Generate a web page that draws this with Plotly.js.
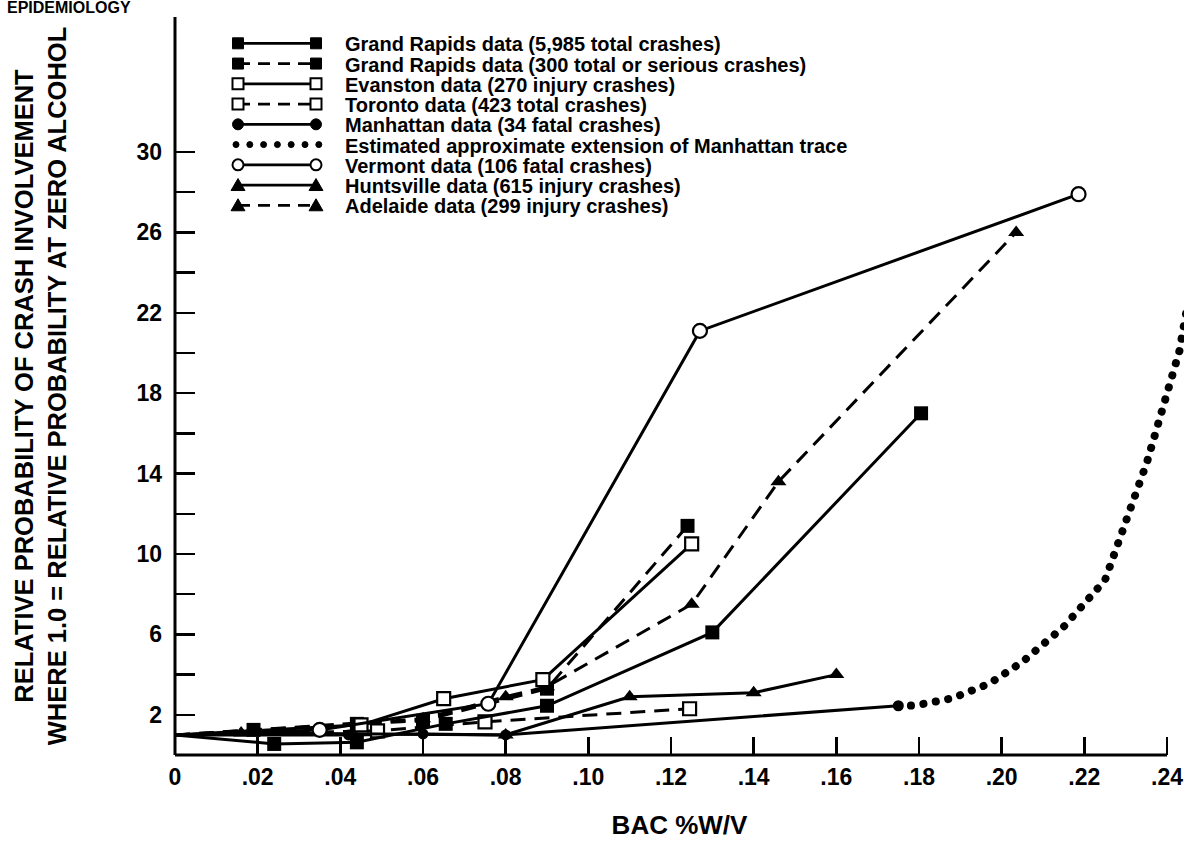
<!DOCTYPE html>
<html>
<head>
<meta charset="utf-8">
<script src="https://cdn.plot.ly/plotly-3.0.1.min.js"></script>
<style>
  html, body { margin: 0; padding: 0; background: #ffffff; }
  #chart { width: 1184px; height: 841px; }
</style>
</head>
<body>
<div id="chart"></div>
<script>
// ---------------- data ----------------
const xTickVals = [0, 0.02, 0.04, 0.06, 0.08, 0.10, 0.12, 0.14, 0.16, 0.18, 0.20, 0.22, 0.24];
const xTickText = ['0', '.02', '.04', '.06', '.08', '.10', '.12', '.14', '.16', '.18', '.20', '.22', '.24'];
const yTickVals = [2, 4, 6, 8, 10, 12, 14, 16, 18, 20, 22, 24, 26, 28, 30];
const yTickText = ['2', '', '6', '', '10', '', '14', '', '18', '', '22', '', '26', '', '30'];

const legendNames = [
  'Grand Rapids data (5,985 total crashes)',
  'Grand Rapids data (300 total or serious crashes)',
  'Evanston data (270 injury crashes)',
  'Toronto data (423 total crashes)',
  'Manhattan data (34 fatal crashes)',
  'Estimated approximate extension of Manhattan trace',
  'Vermont data (106 fatal crashes)',
  'Huntsville data (615 injury crashes)',
  'Adelaide data (299 injury crashes)'
];

const grandRapidsAllBac = [0, 0.024, 0.044, 0.0655, 0.09, 0.13, 0.1805];
const grandRapidsAllRel = [1.0, 0.55, 0.63, 1.55, 2.45, 6.1, 17.0];

const grandRapidsSeriousBac = [0, 0.019, 0.044, 0.06, 0.09, 0.124];
const grandRapidsSeriousRel = [1.0, 1.25, 1.55, 1.7, 3.3, 11.4];

const evanstonBac = [0, 0.045, 0.065, 0.089, 0.125];
const evanstonRel = [1.0, 1.5, 2.8, 3.75, 10.5];

const torontoBac = [0, 0.049, 0.075, 0.1245];
const torontoRel = [1.0, 1.2, 1.65, 2.3];

const manhattanBac = [0, 0.042, 0.06, 0.08, 0.175];
const manhattanRel = [1.0, 1.0, 1.05, 1.0, 2.45];

const manhattanExtBac = [0.175, 0.179, 0.188, 0.197, 0.205, 0.2124, 0.215, 0.225, 0.2352, 0.243, 0.2455];
const manhattanExtRel = [2.45, 2.46, 2.82, 3.55, 4.63, 5.92, 6.38, 8.7, 14.6, 20.1, 23.0];

const vermontBac = [0, 0.035, 0.0758, 0.127, 0.2186];
const vermontRel = [1.0, 1.25, 2.55, 21.1, 27.9];

const huntsvilleBac = [0, 0.016, 0.08, 0.11, 0.14, 0.16];
const huntsvilleRel = [1.0, 1.1, 1.0, 2.9, 3.1, 4.0];

const adelaideBac = [0, 0.06, 0.08, 0.09, 0.125, 0.146, 0.2035];
const adelaideRel = [1.0, 1.8, 2.9, 3.4, 7.5, 13.6, 26.0];

// ---------------- layout geometry ----------------
const FIG_W = 1184, FIG_H = 841;
const M_L = 175, M_T = 17, M_R = 0, M_B = 86;
const PLOT_W = FIG_W - M_L - M_R;
const PLOT_H = FIG_H - M_T - M_B;
const PX_PER_BAC = 992 / 0.24;      // .24 sits 992 px right of 0
const PX_PER_REL = 20.1;
const xRange = [0, PLOT_W / PX_PER_BAC];
const yRange = [0, PLOT_H / PX_PER_REL];

const FONT = 'Liberation Sans, Arial, Helvetica, sans-serif';
const DASH = '15px,9px';
const LW = 3;

function hideFirst(arr, size) { return arr.map((v, i) => (i === 0 ? 0 : size)); }

function series(name, xs, ys, dash, symbol, filled, size) {
  return {
    type: 'scatter', mode: 'lines+markers', name: name, x: xs, y: ys,
    showlegend: false, cliponaxis: false,
    line: { color: '#000', width: LW, dash: dash },
    marker: {
      symbol: symbol, size: hideFirst(xs, size), opacity: 1,
      color: filled ? '#000' : '#fff',
      line: { color: '#000', width: filled ? 0 : 2.2 }
    }
  };
}

const traces = [
  series(legendNames[4], manhattanBac, manhattanRel, 'solid', 'circle', true, 11),
  {
    type: 'scatter', mode: 'lines', name: legendNames[5],
    x: manhattanExtBac, y: manhattanExtRel, showlegend: false,
    line: { color: '#000', width: 8, dash: '0.1px,12.5px' }
  },
  series(legendNames[3], torontoBac, torontoRel, DASH, 'square', false, 13),
  series(legendNames[7], huntsvilleBac, huntsvilleRel, 'solid', 'triangle-up', true, 14),
  series(legendNames[0], grandRapidsAllBac, grandRapidsAllRel, 'solid', 'square', true, 14),
  series(legendNames[8], adelaideBac, adelaideRel, DASH, 'triangle-up', true, 14),
  series(legendNames[1], grandRapidsSeriousBac, grandRapidsSeriousRel, DASH, 'square', true, 14),
  series(legendNames[2], evanstonBac, evanstonRel, 'solid', 'square', false, 13),
  series(legendNames[6], vermontBac, vermontRel, 'solid', 'circle', false, 14)
];

// ---------------- custom legend (two markers per sample) ----------------
const px2x = p => (p - M_L) / PLOT_W;
const py2y = p => (M_T + PLOT_H - p) / PLOT_H;

const legendStyle = [
  { dash: 'solid', sym: 'square', filled: true },
  { dash: '12px,8px', sym: 'square', filled: true },
  { dash: 'solid', sym: 'square', filled: false },
  { dash: '12px,8px', sym: 'square', filled: false },
  { dash: 'solid', sym: 'circle', filled: true },
  { dash: 'dots', sym: 'dot', filled: true },
  { dash: 'solid', sym: 'circle', filled: false },
  { dash: 'solid', sym: 'triangle', filled: true },
  { dash: '12px,8px', sym: 'triangle', filled: true }
];

const shapes = [];
const annotations = [];

// axis lines (not clipped)
shapes.push({ type: 'line', xref: 'paper', yref: 'paper', x0: 0, x1: px2x(1167), y0: 0, y1: 0,
  line: { color: '#000', width: 3 } });
shapes.push({ type: 'line', xref: 'paper', yref: 'paper', x0: 0, x1: 0, y0: 0, y1: 1,
  line: { color: '#000', width: 3 } });

function markerShape(sym, filled, cx, cy, s) {
  const fill = filled ? '#000' : '#fff';
  const ln = { color: '#000', width: filled ? 1 : 2 };
  if (sym === 'square') {
    return { type: 'rect', xref: 'paper', yref: 'paper',
      x0: px2x(cx - s / 2), x1: px2x(cx + s / 2), y0: py2y(cy + s / 2), y1: py2y(cy - s / 2),
      fillcolor: fill, line: ln };
  }
  if (sym === 'circle' || sym === 'dot') {
    return { type: 'circle', xref: 'paper', yref: 'paper',
      x0: px2x(cx - s / 2), x1: px2x(cx + s / 2), y0: py2y(cy + s / 2), y1: py2y(cy - s / 2),
      fillcolor: fill, line: ln };
  }
  const p = [[cx, cy - s * 0.55], [cx - s * 0.58, cy + s * 0.45], [cx + s * 0.58, cy + s * 0.45]];
  const path = 'M' + p.map(q => px2x(q[0]).toFixed(5) + ',' + py2y(q[1]).toFixed(5)).join(' L') + ' Z';
  return { type: 'path', xref: 'paper', yref: 'paper', path: path, fillcolor: fill, line: ln };
}

const LEG_TOP = 43.3, LEG_GAP = 20.26, LEG_X0 = 238, LEG_X1 = 316, LEG_TEXT = 343;
legendNames.forEach((name, i) => {
  const cy = LEG_TOP + i * LEG_GAP;
  const st = legendStyle[i];
  if (st.sym === 'dot') {
    for (let k = 0; k < 7; k++) {
      shapes.push(markerShape('dot', true, 236 + k * 13.8, cy, 6));
    }
  } else {
    shapes.push({ type: 'line', xref: 'paper', yref: 'paper',
      x0: px2x(LEG_X0), x1: px2x(LEG_X1), y0: py2y(cy), y1: py2y(cy),
      line: { color: '#000', width: 2.7, dash: st.dash } });
    const s = st.sym === 'triangle' ? 12 : 11;
    shapes.push(markerShape(st.sym, st.filled, LEG_X0, cy, s));
    shapes.push(markerShape(st.sym, st.filled, LEG_X1, cy, s));
  }
  annotations.push({ xref: 'paper', yref: 'paper', x: px2x(LEG_TEXT), y: py2y(cy + 1),
    xanchor: 'left', yanchor: 'middle', showarrow: false, text: name,
    font: { family: FONT, size: 20, color: '#000', weight: 'bold' } });
});

// page header at the very top (cut off in the source scan)
annotations.push({ xref: 'paper', yref: 'paper', x: px2x(5), y: py2y(18),
  xanchor: 'left', yanchor: 'bottom', showarrow: false, text: 'EPIDEMIOLOGY',
  font: { family: FONT, size: 16, color: '#000', weight: 'bold' } });

const layout = {
  width: FIG_W, height: FIG_H,
  margin: { l: M_L, r: M_R, t: M_T, b: M_B, pad: 0 },
  paper_bgcolor: '#fff', plot_bgcolor: '#fff',
  showlegend: false,
  font: { family: FONT, color: '#000' },
  xaxis: {
    range: xRange, showgrid: false, zeroline: false, showline: false,
    tickmode: 'array', tickvals: xTickVals, ticktext: xTickText,
    ticks: 'inside', ticklen: 18, tickwidth: 2.5, tickcolor: '#000',
    ticklabelstandoff: 6,
    tickfont: { family: FONT, size: 23, color: '#000', weight: 'bold' },
    title: { text: 'BAC %W/V', standoff: 26,
      font: { family: FONT, size: 26, color: '#000', weight: 'bold' } }
  },
  yaxis: {
    range: yRange, showgrid: false, zeroline: false, showline: false,
    tickmode: 'array', tickvals: yTickVals, ticktext: yTickText,
    ticks: 'inside', ticklen: 20, tickwidth: 2.5, tickcolor: '#000',
    ticklabelstandoff: 12,
    tickfont: { family: FONT, size: 23, color: '#000', weight: 'bold' },
    title: { text: 'RELATIVE PROBABILITY OF CRASH INVOLVEMENT<br>WHERE 1.0 = RELATIVE PROBABILITY AT ZERO ALCOHOL',
      standoff: 62,
      font: { family: FONT, size: 25.5, color: '#000', weight: 'bold' } }
  },
  shapes: shapes,
  annotations: annotations
};

Plotly.newPlot('chart', traces, layout, { displayModeBar: false, staticPlot: true }).then(() => {
  const tr = document.querySelectorAll('.scatterlayer .trace');
  if (tr[1]) tr[1].querySelectorAll('path.js-line').forEach(p => { p.style.strokeLinecap = 'round'; });
});
</script>
</body>
</html>
